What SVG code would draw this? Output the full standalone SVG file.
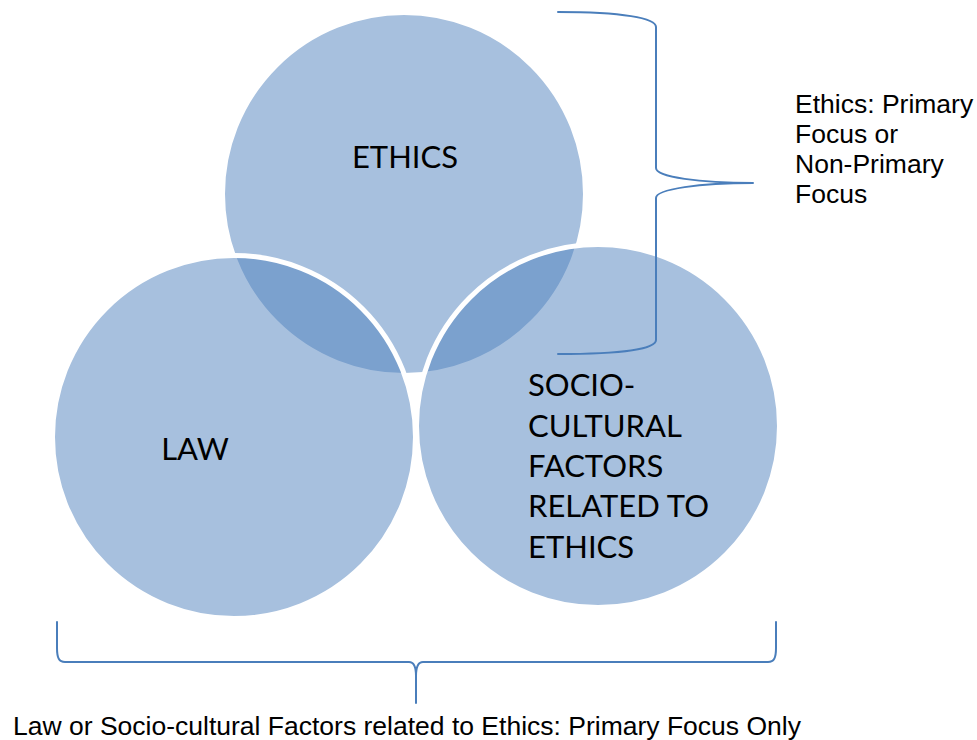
<svg xmlns="http://www.w3.org/2000/svg" width="977" height="740" viewBox="0 0 977 740">
  <style>
    .circle { fill: #4F81BD; fill-opacity: 0.5; stroke: #FFFFFF; stroke-width: 5; }
    .label { font-family: Lato, "Open Sans", sans-serif; font-size: 31px; fill: #000000; }
    .note { font-family: "Liberation Sans", Arial, sans-serif; font-size: 26.5px; fill: #000000; }
    .brace { fill: none; stroke: #4A7EBB; stroke-width: 2; stroke-linecap: round; stroke-linejoin: round; }
  </style>
  <rect x="0" y="0" width="977" height="740" fill="#FFFFFF"/>

  <!-- Venn circles: drawn in stacking order, white rims show over earlier circles -->
  <g id="ethics">
    <circle class="circle" cx="404" cy="194" r="181.5"/>
    <text class="label" x="405" y="168" text-anchor="middle">ETHICS</text>
  </g>
  <g id="law">
    <circle class="circle" cx="234" cy="437" r="181.5"/>
    <text class="label" x="195" y="460" text-anchor="middle">LAW</text>
  </g>
  <g id="socio-cultural">
    <circle class="circle" cx="598" cy="426" r="181.5"/>
    <text class="label" x="528" y="396">SOCIO-</text>
    <text class="label" x="528" y="437">CULTURAL</text>
    <text class="label" x="528" y="477">FACTORS</text>
    <text class="label" x="528" y="517">RELATED TO</text>
    <text class="label" x="528" y="558">ETHICS</text>
  </g>

  <!-- Braces -->
  <g id="connectors">
    <path class="brace" d="M558,12 C622,12 656,18 656,27 L656,168 C656,177 700,183 753,183 C700,183 656,189 656,198 L656,340 C656,349 622,354 558,354"/>
    <path class="brace" d="M57,622 L57,648 C57,658 59,662 65,662 L409,662 C414,662 416,668 416,676 L416,703 M416,676 C416,668 418,662 423,662 L768,662 C774,662 776,658 776,648 L776,622"/>
  </g>

  <g id="ethics-focus-note">
    <text class="note" x="795" y="113">Ethics: Primary</text>
    <text class="note" x="795" y="143">Focus or</text>
    <text class="note" x="795" y="173">Non-Primary</text>
    <text class="note" x="795" y="203">Focus</text>
  </g>
  <g id="primary-focus-note">
    <text class="note" x="13" y="735">Law or Socio-cultural Factors related to Ethics: Primary Focus Only</text>
  </g>
</svg>
